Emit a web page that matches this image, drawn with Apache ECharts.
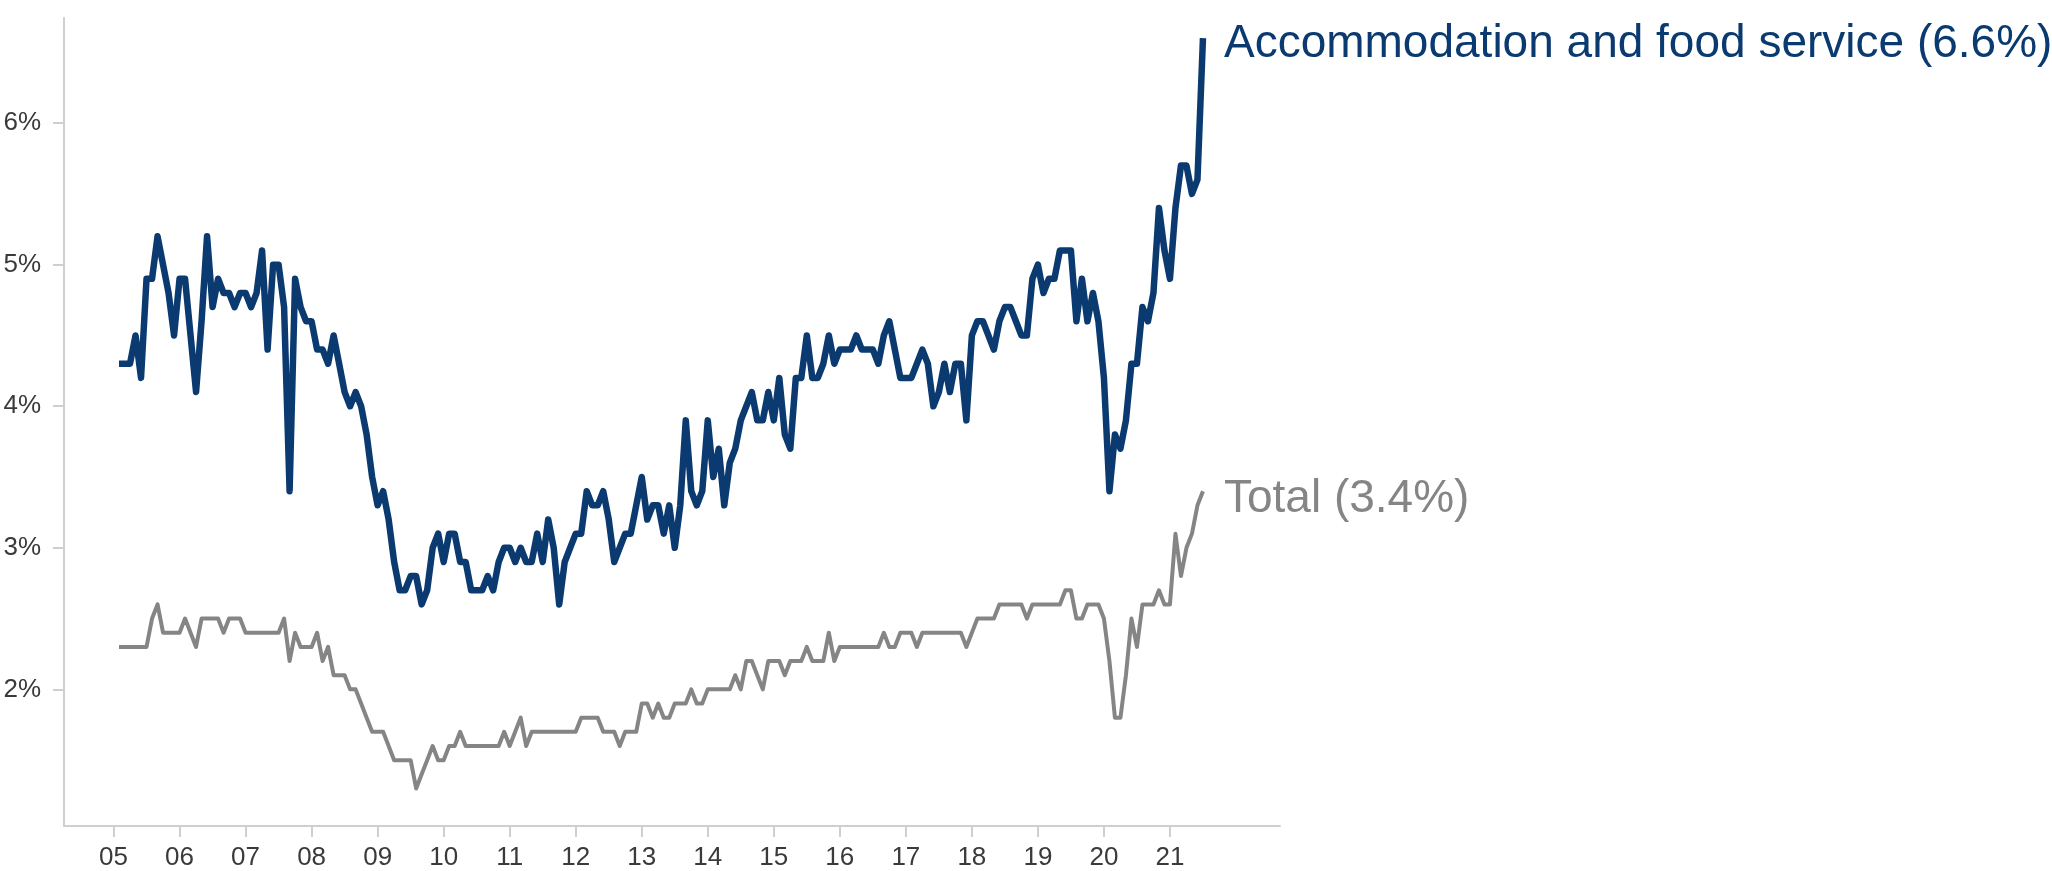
<!DOCTYPE html>
<html>
<head>
<meta charset="utf-8">
<title>Accommodation and food service vs Total</title>
<script src="https://cdn.jsdelivr.net/npm/echarts@6/dist/echarts.min.js"></script>
<style>
  html, body { margin: 0; padding: 0; background: #ffffff; }
  #chart { width: 2052px; height: 871px; }
</style>
</head>
<body>
<div id="chart"></div>
<script>
// monthly series, first value is Feb 2005 (one month after the '05' tick)
const yearLabels = ['05', '06', '07', '08', '09', '10', '11', '12', '13', '14', '15', '16', '17', '18', '19', '20', '21']
const yTicks = [2, 3, 4, 5, 6]

const accommodation = [
  4.3, 4.3, 4.3, 4.5, 4.2, 4.9, 4.9, 5.2, 5.0, 4.8, 4.5, 4.9,
  4.9, 4.5, 4.1, 4.6, 5.2, 4.7, 4.9, 4.8, 4.8, 4.7, 4.8, 4.8,
  4.7, 4.8, 5.1, 4.4, 5.0, 5.0, 4.7, 3.4, 4.9, 4.7, 4.6, 4.6,
  4.4, 4.4, 4.3, 4.5, 4.3, 4.1, 4.0, 4.1, 4.0, 3.8, 3.5, 3.3,
  3.4, 3.2, 2.9, 2.7, 2.7, 2.8, 2.8, 2.6, 2.7, 3.0, 3.1, 2.9,
  3.1, 3.1, 2.9, 2.9, 2.7, 2.7, 2.7, 2.8, 2.7, 2.9, 3.0, 3.0,
  2.9, 3.0, 2.9, 2.9, 3.1, 2.9, 3.2, 3.0, 2.6, 2.9, 3.0, 3.1,
  3.1, 3.4, 3.3, 3.3, 3.4, 3.2, 2.9, 3.0, 3.1, 3.1, 3.3, 3.5,
  3.2, 3.3, 3.3, 3.1, 3.3, 3.0, 3.3, 3.9, 3.4, 3.3, 3.4, 3.9,
  3.5, 3.7, 3.3, 3.6, 3.7, 3.9, 4.0, 4.1, 3.9, 3.9, 4.1, 3.9,
  4.2, 3.8, 3.7, 4.2, 4.2, 4.5, 4.2, 4.2, 4.3, 4.5, 4.3, 4.4,
  4.4, 4.4, 4.5, 4.4, 4.4, 4.4, 4.3, 4.5, 4.6, 4.4, 4.2, 4.2,
  4.2, 4.3, 4.4, 4.3, 4.0, 4.1, 4.3, 4.1, 4.3, 4.3, 3.9, 4.5,
  4.6, 4.6, 4.5, 4.4, 4.6, 4.7, 4.7, 4.6, 4.5, 4.5, 4.9, 5.0,
  4.8, 4.9, 4.9, 5.1, 5.1, 5.1, 4.6, 4.9, 4.6, 4.8, 4.6, 4.2,
  3.4, 3.8, 3.7, 3.9, 4.3, 4.3, 4.7, 4.6, 4.8, 5.4, 5.1, 4.9,
  5.4, 5.7, 5.7, 5.5, 5.6, 6.6
]

const total = [
  2.3, 2.3, 2.3, 2.3, 2.3, 2.3, 2.5, 2.6, 2.4, 2.4, 2.4, 2.4,
  2.5, 2.4, 2.3, 2.5, 2.5, 2.5, 2.5, 2.4, 2.5, 2.5, 2.5, 2.4,
  2.4, 2.4, 2.4, 2.4, 2.4, 2.4, 2.5, 2.2, 2.4, 2.3, 2.3, 2.3,
  2.4, 2.2, 2.3, 2.1, 2.1, 2.1, 2.0, 2.0, 1.9, 1.8, 1.7, 1.7,
  1.7, 1.6, 1.5, 1.5, 1.5, 1.5, 1.3, 1.4, 1.5, 1.6, 1.5, 1.5,
  1.6, 1.6, 1.7, 1.6, 1.6, 1.6, 1.6, 1.6, 1.6, 1.6, 1.7, 1.6,
  1.7, 1.8, 1.6, 1.7, 1.7, 1.7, 1.7, 1.7, 1.7, 1.7, 1.7, 1.7,
  1.8, 1.8, 1.8, 1.8, 1.7, 1.7, 1.7, 1.6, 1.7, 1.7, 1.7, 1.9,
  1.9, 1.8, 1.9, 1.8, 1.8, 1.9, 1.9, 1.9, 2.0, 1.9, 1.9, 2.0,
  2.0, 2.0, 2.0, 2.0, 2.1, 2.0, 2.2, 2.2, 2.1, 2.0, 2.2, 2.2,
  2.2, 2.1, 2.2, 2.2, 2.2, 2.3, 2.2, 2.2, 2.2, 2.4, 2.2, 2.3,
  2.3, 2.3, 2.3, 2.3, 2.3, 2.3, 2.3, 2.4, 2.3, 2.3, 2.4, 2.4,
  2.4, 2.3, 2.4, 2.4, 2.4, 2.4, 2.4, 2.4, 2.4, 2.4, 2.3, 2.4,
  2.5, 2.5, 2.5, 2.5, 2.6, 2.6, 2.6, 2.6, 2.6, 2.5, 2.6, 2.6,
  2.6, 2.6, 2.6, 2.6, 2.7, 2.7, 2.5, 2.5, 2.6, 2.6, 2.6, 2.5,
  2.2, 1.8, 1.8, 2.1, 2.5, 2.3, 2.6, 2.6, 2.6, 2.7, 2.6, 2.6,
  3.1, 2.8, 3.0, 3.1, 3.3, 3.4
]

const navy = '#0a3a70'
const grey = '#858585'
const axisGrey = '#cfcfcf'
const font = '"Liberation Sans", Arial, Helvetica, sans-serif'

// months counted from the '05' tick (Jan 2005)
const toPoints = (values) => values.map((v, i) => [i + 1, v])
const yearTickValues = yearLabels.map((_, i) => i * 12)

const chart = echarts.init(document.getElementById('chart'), null, { renderer: 'canvas' })

const option = {
  animation: false,
  backgroundColor: '#ffffff',
  grid: {
    left: 64,
    right: 772,
    top: 18,
    bottom: 44
  },
  xAxis: {
    type: 'value',
    min: -9,
    max: 212,
    axisLine: {
      show: true,
      onZero: false,
      lineStyle: { color: axisGrey, width: 2 }
    },
    axisTick: {
      show: true,
      customValues: yearTickValues,
      length: 11,
      lineStyle: { color: axisGrey, width: 2 }
    },
    axisLabel: {
      customValues: yearTickValues,
      margin: 19,
      color: '#3a3a3a',
      fontSize: 26,
      fontFamily: font,
      formatter: (v) => yearLabels[Math.round(v / 12)]
    },
    splitLine: { show: false }
  },
  yAxis: {
    type: 'value',
    min: 1.035,
    max: 6.742,
    axisLine: {
      show: true,
      onZero: false,
      lineStyle: { color: axisGrey, width: 2 }
    },
    axisTick: {
      show: true,
      customValues: yTicks,
      length: 11,
      lineStyle: { color: axisGrey, width: 2 }
    },
    axisLabel: {
      customValues: yTicks,
      margin: 23,
      color: '#3a3a3a',
      fontSize: 26,
      fontFamily: font,
      formatter: (v) => v + '%'
    },
    splitLine: { show: false }
  },
  series: [
    {
      name: 'Total',
      type: 'line',
      data: toPoints(total),
      showSymbol: false,
      lineStyle: { color: grey, width: 4, join: 'round' },
      endLabel: {
        show: true,
        distance: 21,
        offset: [0, 8],
        color: grey,
        fontSize: 46,
        fontFamily: font,
        formatter: () => 'Total (' + total[total.length - 1].toFixed(1) + '%)'
      }
    },
    {
      name: 'Accommodation and food service',
      type: 'line',
      data: toPoints(accommodation),
      showSymbol: false,
      lineStyle: { color: navy, width: 6.5, join: 'round' },
      endLabel: {
        show: true,
        distance: 21,
        offset: [0, 6],
        color: navy,
        fontSize: 46,
        fontFamily: font,
        formatter: () => 'Accommodation and food service (' + accommodation[accommodation.length - 1].toFixed(1) + '%)'
      }
    }
  ]
}

chart.setOption(option, true)
</script>
</body>
</html>
